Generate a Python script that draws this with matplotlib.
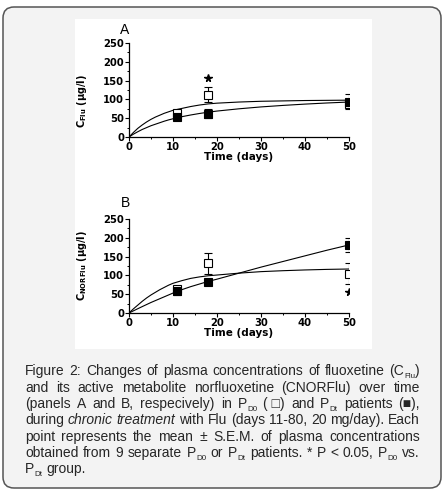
import re
import matplotlib
matplotlib.use("Agg")
import matplotlib.pyplot as plt
from matplotlib.patches import FancyBboxPatch, Rectangle
from matplotlib.ticker import MultipleLocator

# ---------------- data ----------------
days = [11, 18, 50]

# Panel A: fluoxetine (C_Flu)
a_open_mean = [63, 113, 88]
a_open_sem = [6, 19, 10]
a_fill_mean = [53, 62, 94]
a_fill_sem = [4, 12, 20]
a_star = (18, 158)

# fitted curves (day, value)
curve_days = [0, 1, 2, 3, 4, 5, 6, 7, 8, 9, 10, 12, 14, 16, 18, 20, 25, 30, 35, 40, 45, 50]
a_open_curve = [0, 12, 23, 32, 40, 47, 53, 58, 63, 67, 71, 76, 81, 85, 88, 90, 93, 95, 96, 97, 97.5, 98]
a_fill_curve = [0, 7.5, 14, 20, 25, 30, 34, 38, 42, 45.5, 48.5, 54, 58.5, 62.5, 66, 69, 75, 80, 84, 87.5, 90.5, 93]

# Panel B: norfluoxetine (C_NORFlu)
b_open_mean = [65, 132, 105]
b_open_sem = [6, 28, 29]
b_fill_mean = [58, 83, 181]
b_fill_sem = [9, 7, 18]
b_star = (50, 57)
b_open_curve = [0, 11, 21, 31, 40, 48, 55, 62, 68, 74, 79, 86, 92, 96, 99, 101, 106, 110, 112.5, 114.5, 116, 117]
b_fill_curve = [0, 5.7, 11.4, 17, 22.5, 28, 33, 38, 43, 48, 53, 62, 70, 77, 84, 90, 106, 122, 137, 152, 167, 181]

x_ticks = [0, 10, 20, 30, 40, 50]
y_ticks = [0, 50, 100, 150, 200, 250]

caption_lines = [
    "Figure 2: Changes of plasma concentrations of fluoxetine (C_{Flu})",
    "and its active metabolite norfluoxetine (CNORFlu) over time",
    "(panels A and B, respecively) in P_{D0} (~□) and P_{Dt} patients (■),",
    "during #chronic #treatment with Flu (days 11-80, 20 mg/day). Each",
    "point represents the mean ± S.E.M. of plasma concentrations",
    "obtained from 9 separate P_{D0} or P_{Dt} patients. * P < 0.05, P_{D0} vs.",
    "P_{Dt} group.",
]

# ---------------- figure ----------------
W, H = 447, 494
fig = plt.figure(figsize=(W / 100, H / 100), dpi=100)
fig.patch.set_facecolor("white")

bg = fig.add_axes([0, 0, 1, 1], zorder=-5)
bg.set_xlim(0, W)
bg.set_ylim(H, 0)
bg.axis("off")
bg.add_patch(FancyBboxPatch((3, 7), 438, 481,
                            boxstyle="round,pad=0,rounding_size=11",
                            fc="#f3f3f3", ec="#555555", lw=1.1))
bg.add_patch(Rectangle((75, 19), 297, 330, fc="white", ec="none"))

# ---------------- caption (justified) ----------------
cap_font = ["Liberation Sans", "DejaVu Sans"]
cap_size = 10.0
sub_size = 5.8
cap_color = "#262626"
renderer = fig.canvas.get_renderer()


def seg_width(text, size, style):
    t = bg.text(0, 0, text, fontsize=size, family=cap_font, style=style)
    w = t.get_window_extent(renderer).width
    t.remove()
    return w


def parse_word(word):
    style = "normal"
    if word.startswith("#"):
        style = "italic"
        word = word[1:]
    word = word.replace("~", " ")
    segs = []
    parts = re.split(r"_\{([^}]*)\}", word)
    for i, p in enumerate(parts):
        if not p:
            continue
        segs.append((p, "sub" if i % 2 == 1 else "main", style))
    return segs


left_x, right_x = 25, 420
baselines = [375, 391.5, 408, 424.3, 440.6, 457, 473.3]
space_w = seg_width("a a", cap_size, "normal") - seg_width("aa", cap_size, "normal")

for li, line in enumerate(caption_lines):
    words = [parse_word(w) for w in line.split(" ")]
    widths = []
    for segs in words:
        tot = 0
        for txt, kind, st in segs:
            tot += seg_width(txt, sub_size if kind == "sub" else cap_size, st) + (0.3 if kind == "sub" else 0)
        widths.append(tot)
    last = li == len(caption_lines) - 1
    if last or len(words) < 2:
        gap = space_w
    else:
        gap = max((right_x - left_x - sum(widths)) / (len(words) - 1), 1.5)
    x = left_x
    y = baselines[li]
    for segs, wd in zip(words, widths):
        xx = x
        for txt, kind, st in segs:
            if kind == "sub":
                bg.text(xx + 0.3, y + 3.0, txt, fontsize=sub_size, family=cap_font,
                        style=st, color=cap_color, va="baseline", ha="left")
                xx += seg_width(txt, sub_size, st) + 0.3
            else:
                bg.text(xx, y, txt, fontsize=cap_size, family=cap_font,
                        style=st, color=cap_color, va="baseline", ha="left")
                xx += seg_width(txt, cap_size, st)
        x += wd + gap

# ---------------- panels ----------------
def px_axes(x0, y0, x1, y1):
    return fig.add_axes([x0 / W, 1 - y1 / H, (x1 - x0) / W, (y1 - y0) / H])


def draw_panel(ax, open_m, open_s, fill_m, fill_s, open_c, fill_c, star, ylabel, ylab_y):
    ax.set_facecolor("none")
    ax.plot(curve_days, open_c, color="black", lw=0.8, zorder=2)
    ax.plot(curve_days, fill_c, color="black", lw=0.8, zorder=2)
    ax.errorbar(days, open_m, yerr=open_s, fmt="s", ms=5.2, mfc="white", mec="black",
                mew=0.8, ecolor="black", elinewidth=0.8, capsize=3, capthick=0.8, zorder=3)
    ax.errorbar(days, fill_m, yerr=fill_s, fmt="s", ms=5.2, mfc="black", mec="black",
                mew=0.8, ecolor="black", elinewidth=0.8, capsize=3, capthick=0.8, zorder=4)
    ax.plot([star[0]], [star[1]], marker="*", ms=5.5, color="black", ls="none", zorder=5)
    ax.set_xlim(0, 50)
    ax.set_ylim(0, 250)
    ax.set_xticks(x_ticks)
    ax.set_yticks(y_ticks)
    ax.xaxis.set_minor_locator(MultipleLocator(5))
    ax.yaxis.set_minor_locator(MultipleLocator(25))
    for s in ("top", "right"):
        ax.spines[s].set_visible(False)
    for s in ("left", "bottom"):
        ax.spines[s].set_linewidth(0.9)
    ax.tick_params(which="major", length=2.8, width=0.8, pad=0.8, direction="out")
    ax.tick_params(which="minor", length=1.5, width=0.7, direction="out")
    for lab in ax.get_xticklabels() + ax.get_yticklabels():
        lab.set_fontsize(7.2)
        lab.set_fontweight("bold")
    ax.set_xlabel("Time (days)", fontsize=7.5, fontweight="bold")
    ax.xaxis.set_label_coords(0.5, -0.16)
    ax.set_ylabel(ylabel, fontsize=7, fontweight="bold")
    ax.yaxis.set_label_coords(-0.18, ylab_y)


axA = px_axes(129, 43, 349, 137)
draw_panel(axA, a_open_mean, a_open_sem, a_fill_mean, a_fill_sem,
           a_open_curve, a_fill_curve, a_star, r"$\mathbf{C_{Flu}}$ (μg/l)", 0.38)
axB = px_axes(129, 219, 349, 313)
draw_panel(axB, b_open_mean, b_open_sem, b_fill_mean, b_fill_sem,
           b_open_curve, b_fill_curve, b_star, r"$\mathbf{C_{NORFlu}}$ (μg/l)", 0.5)

bg.text(125, 30, "A", fontsize=10, family="Liberation Sans", ha="center", va="center")
bg.text(125, 203, "B", fontsize=10, family="Liberation Sans", ha="center", va="center")

fig.savefig("out.png", dpi=100)
